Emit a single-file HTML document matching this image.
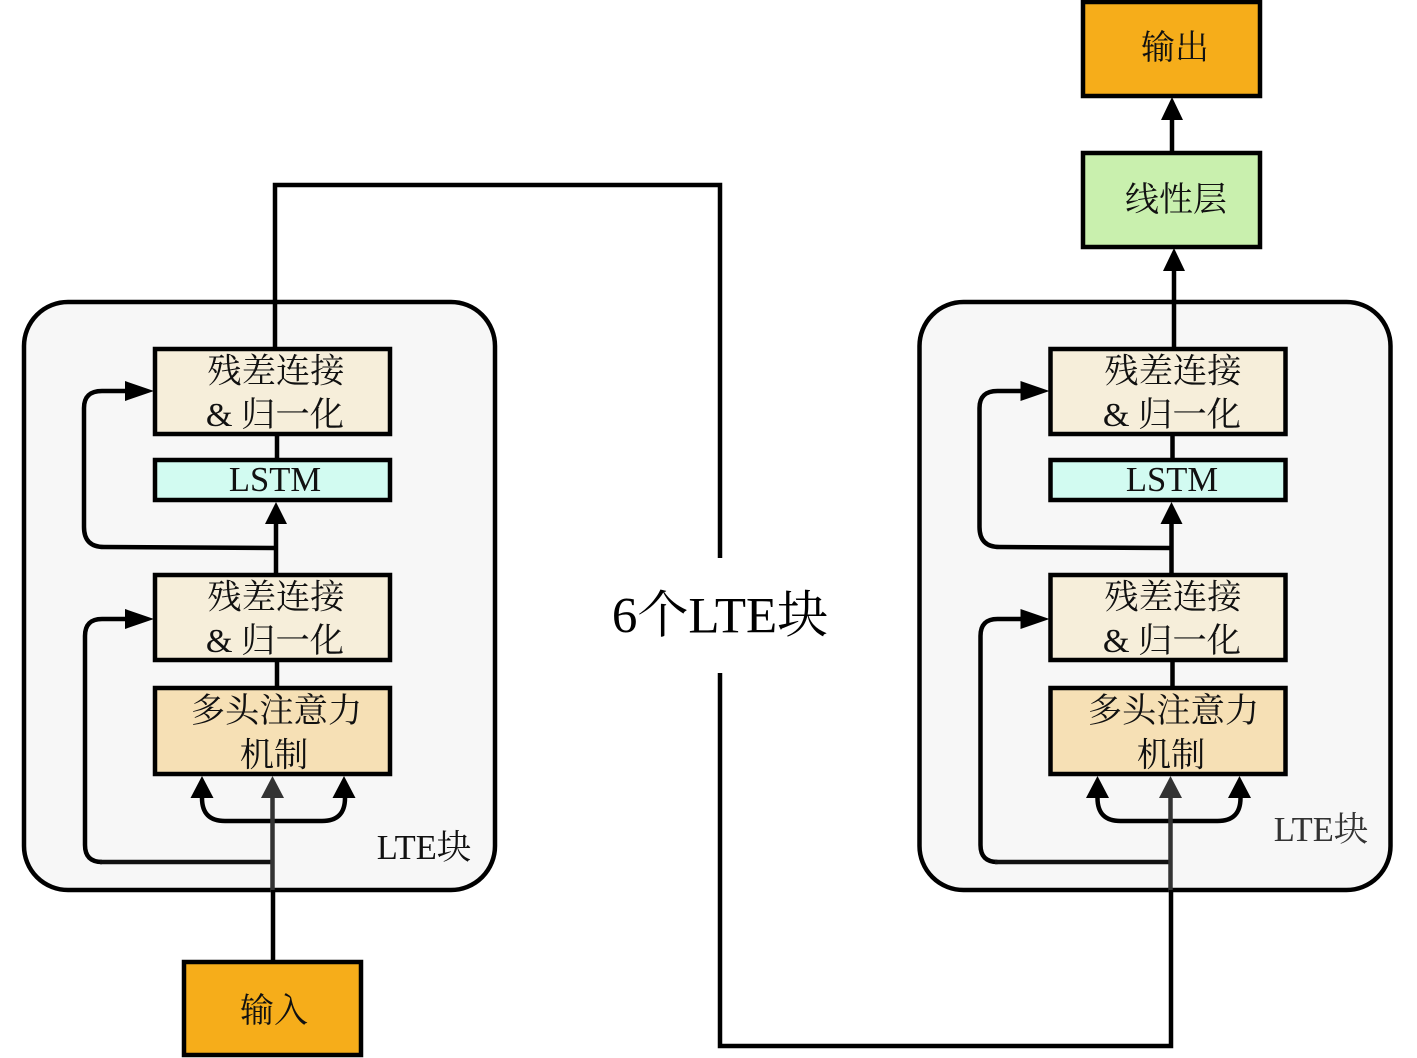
<!DOCTYPE html>
<html><head><meta charset="utf-8"><style>
html,body{margin:0;padding:0;background:#fff}
svg{display:block}
text{font-family:"Liberation Serif","Noto Serif CJK SC",serif;fill:#111;text-anchor:middle}
.b{stroke:#000;stroke-width:4.5}
.l{fill:none;stroke:#000;stroke-width:4.5}
</style></head><body>
<svg width="1417" height="1058" viewBox="0 0 1417 1058" xmlns="http://www.w3.org/2000/svg">
<defs>
<g id="block">
<rect x="24" y="302" width="471" height="588" rx="44" fill="#f7f7f7" stroke="#000" stroke-width="4.5"/>
<rect class="b" x="155" y="349" width="235" height="85" fill="#f6eeda"/>
<rect class="b" x="155" y="460" width="235" height="40" fill="#d2fbf1"/>
<rect class="b" x="155" y="575" width="235" height="85" fill="#f6eeda"/>
<rect class="b" x="155" y="688" width="235" height="86" fill="#f6e0b5"/>
<path class="l" d="M277 434V460M276 522V575M277 660V688"/>
<path class="l" d="M276 548L104 547Q84 547 84 527V408Q84 391 102 391H128"/>
<polygon points="154,391 125,381 125,401" fill="#000"/>
<polygon points="276,502 265,524 287,524" fill="#000"/>
<path class="l" d="M102 862H102Q85 862 85 845V636Q85 619 102 619H128"/>
<polygon points="154,619 125,609 125,629" fill="#000"/>
<path class="l" d="M202 796V798Q202 821 225 821H322Q345 821 345 798V796"/>
<polygon points="202,776 190.5,798 213.5,798" fill="#000"/>
<polygon points="344,776 332.5,798 355.5,798" fill="#000"/>
</g>
<g id="labels">
<text x="276" y="382.5" font-size="34.3">残差连接</text>
<text x="275" y="426" font-size="34.3">&amp; 归一化</text>
<text x="275" y="491" font-size="34.6">LSTM</text>
<text x="276" y="608.5" font-size="34.3">残差连接</text>
<text x="275" y="652" font-size="34.3">&amp; 归一化</text>
<text x="276.5" y="722" font-size="34.3">多头注意力</text>
<text x="274" y="766.5" font-size="34.3">机制</text>
</g>
</defs>
<use href="#block"/>
<use href="#block" x="895.5"/>
<use href="#labels"/>
<use href="#labels" x="897"/>
<path d="M100 862H272.5" fill="none" stroke="#111" stroke-width="4.5"/>
<path d="M995 862H1170.5" fill="none" stroke="#111" stroke-width="4.5"/>
<polygon points="272.5,776 261,798 284,798" fill="#333"/>
<polygon points="1170.5,776 1159,798 1182,798" fill="#333"/>
<path d="M272.5 796V892M1170.5 796V892" fill="none" stroke="#333" stroke-width="4.5"/>
<text x="424" y="859" font-size="34.5">LTE块</text>
<text x="1321" y="841" font-size="34.5" style="fill:#333">LTE块</text>
<path class="l" d="M275 349V185H720V558M720 673V1046H1171V890"/>
<path class="l" d="M273 890V962"/>
<rect class="b" x="184" y="962" width="177" height="93" fill="#f6ad1a"/>
<text x="274" y="1022" font-size="34">输入</text>
<rect class="b" x="1083" y="2" width="177" height="94" fill="#f6ad1a"/>
<text x="1175" y="59" font-size="34">输出</text>
<rect class="b" x="1083" y="153" width="177" height="94" fill="#c9f0ae"/>
<text x="1176" y="211" font-size="34">线性层</text>
<path class="l" d="M1172 118V153M1174 270V349"/>
<polygon points="1172,97 1161,120 1183,120" fill="#000"/>
<polygon points="1174,248 1163,271 1185,271" fill="#000"/>
<text x="720" y="632.5" font-size="51" style="fill:#000">6个LTE块</text>
</svg>
</body></html>
